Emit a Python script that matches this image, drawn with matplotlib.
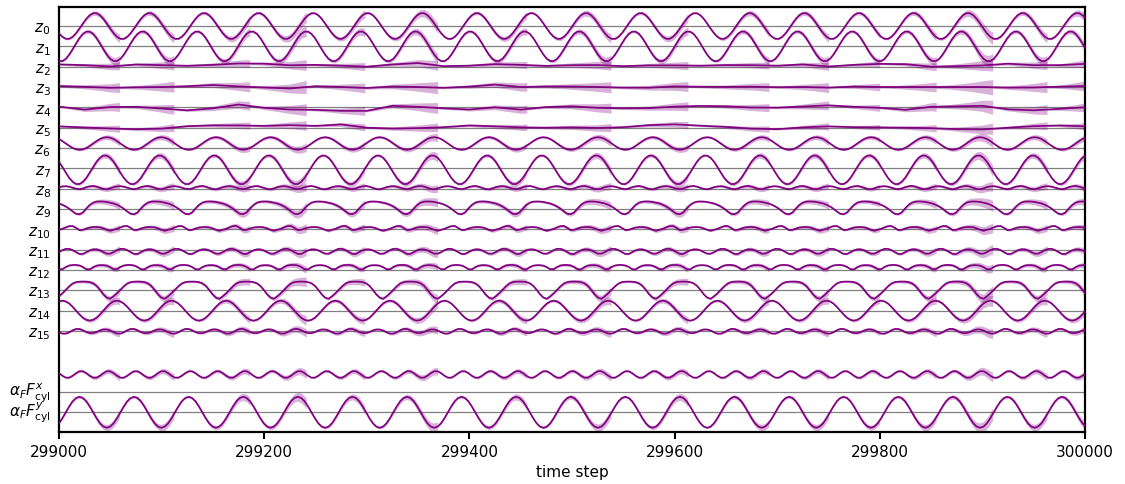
import numpy as np
import matplotlib.pyplot as plt
from matplotlib.transforms import ScaledTranslation

t_start, t_end = 299000, 300000
period = 53.2          # time steps per shedding cycle
row_px = 20.33         # pixel distance between two rows (values below are in px)

# one shedding cycle, 16 samples, offset from row baseline (up positive)
z0_cycle = [-7.2, -10.8, -12.8, -12.8, -10.8, -7.2, -2.5, 2.5, 7.2, 10.8, 12.8, 12.8, 10.8, 7.2, 2.5, -2.5]
z1_cycle = [-14.7, -14.7, -12.5, -8.3, -2.9, 2.9, 8.3, 12.5, 14.7, 14.7, 12.5, 8.3, 2.9, -2.9, -8.3, -12.5]
z6_cycle = [9.0, 6.9, 4.5, 2.1, 0.0, -1.3, -1.8, -1.3, 0.0, 2.1, 4.5, 6.9, 9.0, 10.3, 10.8, 10.3]
z7_cycle = [6.6, 1.3, -4.3, -9.6, -13.5, -15.7, -15.7, -13.5, -9.6, -4.3, 1.3, 6.6, 10.6, 12.7, 12.7, 10.6]
z8_cycle = [1.5, 2.2, 2.5, 2.0, 1.0, 0.0, -0.5, 0.2, 1.5, 2.3, 2.7, 2.0, 0.8, -0.3, -0.6, 0.3]
z9_cycle = [5.5, 4.2, 2.5, 0.3, -2.5, -4.8, -5.2, -3.5, 0.5, 4.0, 6.3, 7.3, 7.5, 7.4, 7.0, 6.3]
z10_cycle = [-0.5, 0.5, 2.0, 3.2, 3.3, 1.5, -0.8, -0.5, 0.8, 1.8, 2.2, 2.3, 2.0, 1.0, -0.5, -1.5]
z11_cycle = [-2.5, -0.5, 0.8, 0.8, -0.5, -2.5, -4.3, -4.3, -2.5, -0.7, 0.3, 0.3, -0.7, -2.5, -4.0, -4.0]
z12_cycle = [0.8, 0.8, 3.0, 4.5, 5.0, 5.0, 4.5, 3.0, 0.8, 0.6, 2.8, 4.3, 4.8, 4.8, 4.3, 2.8]
z13_cycle = [-6.0, -3.0, 0.5, 4.0, 6.8, 8.2, 8.6, 8.7, 8.6, 8.2, 7.0, 4.5, 0.5, -4.0, -7.3, -8.5]
z14_cycle = [9.2, 10.0, 9.2, 7.1, 3.8, 0.0, -3.8, -7.1, -9.2, -10.0, -9.2, -7.1, -3.8, 0.0, 3.8, 7.1]
z15_cycle = [-1.3, -2.6, -2.6, -1.3, 0.7, 2.0, 2.0, 0.7, -1.1, -2.1, -2.1, -1.1, 0.5, 1.5, 1.5, 0.5]
fx_cycle = [18.8, 16.2, 14.3, 14.3, 16.2, 18.8, 20.7, 20.7, 18.8, 16.2, 14.3, 14.3, 16.2, 18.8, 20.7, 20.7]
fy_cycle = [-11.0, -5.9, 0.0, 5.9, 11.0, 14.3, 15.5, 14.3, 11.0, 5.9, 0.0, -5.9, -11.0, -14.3, -15.5, -14.3]

# slowly drifting latents, sampled every 25 time steps
slow_t = np.arange(0, 1001, 25)
z2_slow = [2.3, 1.5, 0.2, 2.2, 1.5, 0.9, 1.8, 3.2, 3.0, 1.4, 1.8, 1.0, 0.0, 2.2, 3.6, 0.5, 1.0, 2.5, 1.8, 0.8, 1.5,
           1.6, 0.5, 1.3, 1.3, 1.0, 1.6, 1.5, 1.0, 2.2, 0.2, 1.8, 2.8, 2.5, 0.0, 0.5, 1.2, 3.0, 1.5, 1.5, 2.8]
z3_slow = [1.0, 0.2, -0.8, -0.3, 0.0, 0.8, 2.0, 0.6, -0.5, -1.5, 0.8, 0.0, -1.0, 0.5, 0.0, -0.8, 0.4, 2.4, 0.0, 0.6, 0.5,
           0.0, -0.6, -0.7, 0.6, 0.3, 0.1, 0.3, -0.2, 0.0, -0.6, 0.5, 0.0, 0.0, 0.0, 0.0, 0.0, -0.6, -0.5, 0.3, 1.0]
z4_slow = [0.7, -2.3, 0.3, 0.5, -1.2, -3.0, -1.0, 2.8, -0.5, -2.2, -2.5, -3.5, -3.5, 1.5, 0.5, -1.0, -2.2, 0.0, -2.3, 0.3, 1.0,
           -0.5, -1.0, -0.8, 0.7, 1.4, 1.0, -0.2, -0.3, 0.8, 2.0, 0.5, -0.5, -2.5, 0.5, 1.0, 1.5, -2.0, -3.0, -1.5, 0.0]
z5_slow = [1.3, 0.2, -0.8, -1.6, -1.0, 1.5, 2.3, 2.2, 1.8, 2.5, 1.8, 3.2, 0.0, -0.9, -0.5, 0.5, 2.2, 1.3, 0.3, 0.0, 0.3,
           -0.3, 0.5, 2.5, 3.3, 2.0, 0.8, -1.0, -1.5, 0.3, 1.3, 0.5, 0.3, 0.0, -0.5, -1.5, -1.8, 0.0, 1.5, 2.2, 1.3]

# prediction windows (uncertainty restarts at every edge)
seg_edges = [0, 59, 112, 186, 241, 298, 369, 456, 538, 613, 692, 750, 800, 855, 910, 963, 1000]
seg_factor = [0.9, 1.0, 0.9, 1.2, 0.9, 1.1, 0.8, 1.0, 0.9, 0.8, 0.9, 0.7, 0.9, 1.4, 1.0, 0.9]

labels = [r'$z_{%d}$' % i for i in range(16)] + [r'$\alpha_F F^{x}_{\mathrm{cyl}}$', r'$\alpha_F F^{y}_{\mathrm{cyl}}$']
rows = [z0_cycle, z1_cycle, z2_slow, z3_slow, z4_slow, z5_slow, z6_cycle, z7_cycle, z8_cycle, z9_cycle,
        z10_cycle, z11_cycle, z12_cycle, z13_cycle, z14_cycle, z15_cycle, fx_cycle, fy_cycle]
positions = list(range(16)) + [18, 19]
band_scale = [4.5, 4.5, 4.5, 5.5, 5, 4, 3.5, 4, 3.5, 4, 3.5, 3.5, 3, 4, 4, 3.5, 3.5, 4.5]

n_cyc = 16 * 20
cyc_t = np.arange(n_cyc) * period / 16
t_fine = np.arange(0, 1000.5, 1.0)

fig = plt.figure(figsize=(11.25, 4.85), dpi=100)
ax = fig.add_axes([59 / 1125, 1 - 433 / 485, 1026 / 1125, 425 / 485])

for vals, pos, sc in zip(rows, positions, band_scale):
    if len(vals) == 16:
        t = cyc_t
        v = np.tile(vals, 20)[:n_cyc]
    else:
        t = slow_t
        v = np.array(vals)
    y = -pos + v / row_px
    ax.axhline(-pos, color='gray', lw=0.9, zorder=1)
    yc = np.interp(t_fine, t, y)
    for k in range(len(seg_edges) - 1):
        a, b = seg_edges[k], seg_edges[k + 1]
        m = (t_fine >= a) & (t_fine <= b)
        s = (t_fine[m] - a) / (b - a)
        w = sc * seg_factor[k] * (0.2 + 0.8 * s ** 1.5) / row_px
        ax.fill_between(t_start + t_fine[m], yc[m] - w, yc[m] + w, color='purple', alpha=0.3, lw=0, zorder=2)
    ax.plot(t_start + t, y, color='purple', lw=1.25, zorder=3)

ax.set_xlim(t_start, t_end)
ax.set_ylim(-19.97, 0.935)
ax.set_yticks([-p for p in positions])
ax.set_yticklabels(labels, fontsize=11)
ax.tick_params(axis='y', length=0, pad=6)
# force labels sit a little higher than their lines
for lab in ax.get_yticklabels()[-2:]:
    lab.set_transform(lab.get_transform() + ScaledTranslation(0, 0.05, fig.dpi_scale_trans))
ax.set_xticks(np.arange(t_start, t_end + 1, 200))
ax.ticklabel_format(axis='x', useOffset=False, style='plain')
ax.tick_params(axis='x', labelsize=11, width=1.5, length=5)
for sp in ax.spines.values():
    sp.set_linewidth(1.6)
ax.set_xlabel('time step', fontsize=11)

fig.savefig('out.png', dpi=100)
